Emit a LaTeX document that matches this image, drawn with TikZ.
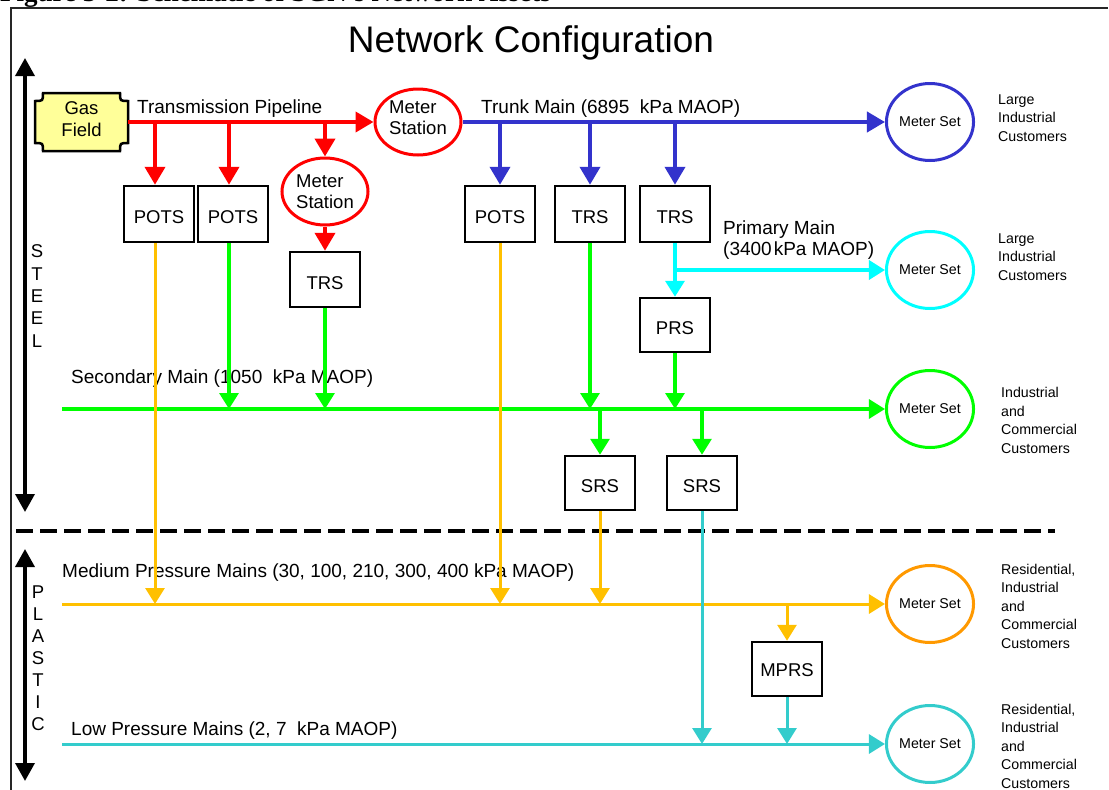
\documentclass[tikz,border=0pt]{standalone}
\usepackage{fontspec}
\setmainfont{Liberation Sans}
\newfontfamily\capfont{Liberation Serif}
\usetikzlibrary{arrows.meta,shapes.geometric}
\definecolor{cRed}{HTML}{FF0000}
\definecolor{cBlue}{HTML}{3333CC}
\definecolor{cCyan}{HTML}{00FFFF}
\definecolor{cGreen}{HTML}{00FF00}
\definecolor{cOrange}{HTML}{FFC000}
\definecolor{cOrangeC}{HTML}{FF9900}
\definecolor{cTeal}{HTML}{33CCCC}
\definecolor{cYellow}{HTML}{FFFF99}
\newcommand\fsBox{\fontsize{18.5}{21}\selectfont}
\newcommand\fsLbl{\fontsize{19}{21}\selectfont}
\newcommand\fsSmall{\fontsize{14.2}{18.5}\selectfont}
\newcommand\fsSide{\fontsize{18.5}{22.4}\selectfont}
\tikzset{
  boxnode/.style={draw=black, line width=2.5pt, minimum width=70pt, minimum height=56pt, inner sep=0pt, text height=19pt, text depth=0pt, font=\fsBox},
  station/.style={ellipse, draw=cRed, line width=3pt, minimum width=86pt, minimum height=66pt, inner sep=0pt, align=left, font=\fsBox},
  stationtext/.style={align=left, inner sep=0pt, font=\fsBox},
  meterset/.style={ellipse, line width=3pt, minimum width=85pt, minimum height=77pt, inner sep=0pt, font=\fsSmall},
  cust/.style={anchor=west, align=left, inner sep=0pt, font=\fsSmall},
  pipelabel/.style={anchor=west, inner sep=0pt, font=\fsLbl},
  bigtip/.style={-{Triangle[length=18pt,width=20pt]}},
  smalltip/.style={-{Triangle[length=16pt,width=19pt]}},
  redpipe/.style={draw=cRed, line width=4pt},
  bluepipe/.style={draw=cBlue, line width=4pt},
  cyanpipe/.style={draw=cCyan, line width=3.5pt},
  greenpipe/.style={draw=cGreen, line width=3.2pt},
  orangepipe/.style={draw=cOrange, line width=3pt},
  tealpipe/.style={draw=cTeal, line width=3pt},
  sidearrow/.style={draw=black, line width=3.5pt, {Triangle[length=18pt,width=19pt]}-{Triangle[length=18pt,width=19pt]}},
}
\begin{document}
\begin{tikzpicture}[x=1pt,y=-1pt]
\useasboundingbox (0,0) rectangle (1109,790);
% caption (cut off at the top edge, as in the reference)
\node[anchor=base west, inner sep=0pt, font=\capfont\bfseries\fontsize{27}{30}\selectfont] (caption) at (0,1.5) {Figure 3-2: Schematic of SGN's Network Assets};
% frame
\coordinate (fbl) at (11,790);
\coordinate (ftl) at (11,8);
\coordinate (ftr) at (1108,8);
\draw[line width=2pt, black!85] (fbl) -- (ftl) -- (ftr);
% title
\node[font=\fontsize{37}{40}\selectfont, inner sep=0pt] (title) at (531,43) {Network Configuration};
% side arrows
\coordinate (s1) at (25,58);
\coordinate (s2) at (25,512);
\coordinate (p1) at (25,549);
\coordinate (p2) at (25,781);
\draw[sidearrow] (s1) -- (s2);
\draw[sidearrow] (p1) -- (p2);
\node[align=center, inner sep=0pt, font=\fsSide] (steel) at (37,296) {S\\T\\E\\E\\L};
\node[align=center, inner sep=0pt, font=\fontsize{18.5}{22}\selectfont] (plastic) at (38,658) {P\\L\\A\\S\\T\\I\\C};
% dashed divider
\coordinate (d1) at (16,531);
\coordinate (d2) at (1055,531);
\draw[line width=3.5pt, dash pattern=on 17pt off 7pt] (d1) -- (d2);
% gas field plaque
\filldraw[fill=cYellow, draw=black, line width=2.5pt]
  (43,93) -- (120,93) .. controls (120,101) .. (128,101) -- (128,143)
  .. controls (120,143) .. (120,151) -- (43,151) .. controls (43,143) .. (35,143)
  -- (35,101) .. controls (43,101) .. (43,93) -- cycle;
\node[inner sep=0pt, minimum width=93pt, minimum height=58pt] (gas) at (81.5,122) {};
\node[align=center, inner sep=0pt, font=\fontsize{18.5}{22}\selectfont] (gastext) at ([yshift=3pt]gas.center) {Gas\\Field};
% stations
\node[station] (ms1) at (418,122) {};
\node[stationtext] (ms1text) at ([yshift=4pt]ms1.center) {Meter\\Station};
\node[station, minimum height=67pt] (ms2) at (325,191.5) {Meter\\Station};
% boxes
\node[boxnode] (pots1) at (159,214) {POTS};
\node[boxnode] (pots2) at (233,214) {POTS};
\node[boxnode] (pots3) at (500,214) {POTS};
\node[boxnode] (trs2) at (590,214) {TRS};
\node[boxnode] (trs3) at (675,214) {TRS};
\node[boxnode, minimum height=55pt] (trs1) at (325,279.5) {TRS};
\node[boxnode, minimum height=54pt] (prs) at (675,325) {PRS};
\node[boxnode, minimum height=54pt] (srs1) at (600,483) {SRS};
\node[boxnode, minimum height=54pt] (srs2) at (702,483) {SRS};
\node[boxnode, minimum height=54pt, text height=15pt] (mprs) at (787,669) {MPRS};
% meter sets
\node[meterset, draw=cBlue] (msb) at (930,122) {Meter Set};
\node[meterset, draw=cCyan] (msc) at (930,270) {Meter Set};
\node[meterset, draw=cGreen] (msg) at (930,409) {Meter Set};
\node[meterset, draw=cOrangeC] (mso) at (930,604) {Meter Set};
\node[meterset, draw=cTeal] (mst) at (930,744) {Meter Set};
% customers
\node[cust] (custb) at (998,118) {Large\\Industrial\\Customers};
\node[cust] (custc) at (998,257) {Large\\Industrial\\Customers};
\node[cust] (custg) at (1001,420.5) {Industrial\\and\\Commercial\\Customers};
\node[cust] (custo) at (1001,606) {Residential,\\Industrial\\and\\Commercial\\Customers};
\node[cust] (custt) at (1001,746) {Residential,\\Industrial\\and\\Commercial\\Customers};
% pipe labels
\node[pipelabel] (ltrans) at (137,109) {Transmission Pipeline};
\node[pipelabel] (ltrunk) at (481,109) {Trunk Main (6895\ \ kPa MAOP)};
\node[pipelabel, align=left] (lprim) at (723,240.5) {Primary Main\\(3400\hspace{2pt}kPa MAOP)};
\node[pipelabel] (lsec) at (71,379) {Secondary Main (1050\ \ kPa MAOP)};
\node[pipelabel] (lmed) at (62,573) {Medium Pressure Mains (30, 100, 210, 300, 400 kPa MAOP)};
\node[pipelabel] (llow) at (71,731) {Low Pressure Mains (2, 7\ \ kPa MAOP)};
% branch coordinates
\coordinate (r1) at (155,122);
\coordinate (r2) at (229,122);
\coordinate (r3) at (325,122);
\coordinate (b1) at (500,122);
\coordinate (b2) at (590,122);
\coordinate (b3) at (675,122);
\coordinate (c1) at (675,270);
\coordinate (gstart) at (62,409);
\coordinate (g1) at (600,409);
\coordinate (g2) at (702,409);
\coordinate (mstart) at (62,604);
\coordinate (m1) at (787,604);
\coordinate (lstart) at (62,744);
% red
\draw[redpipe, bigtip] (gas.east) -- (ms1.west);
\draw[redpipe, bigtip] (r1) -- (r1 |- pots1.north);
\draw[redpipe, bigtip] (r2) -- (r2 |- pots2.north);
\draw[redpipe, bigtip] (r3) -- (ms2.north);
\draw[redpipe, bigtip] (ms2.south) -- (trs1.north);
% blue
\draw[bluepipe, bigtip] (ms1.east) -- (msb.west);
\draw[bluepipe, bigtip] (b1) -- (pots3.north);
\draw[bluepipe, bigtip] (b2) -- (trs2.north);
\draw[bluepipe, bigtip] (b3) -- (trs3.north);
% cyan
\draw[cyanpipe, smalltip] (trs3.south) -- (prs.north);
\draw[cyanpipe, smalltip] (c1) -- (msc.west);
% green
\draw[greenpipe, smalltip] (gstart) -- (msg.west);
\draw[greenpipe, smalltip] (pots2.south -| r2) -- (r2 |- gstart);
\draw[greenpipe, smalltip] (trs1.south) -- (trs1.south |- gstart);
\draw[greenpipe, smalltip] (trs2.south) -- (trs2.south |- gstart);
\draw[greenpipe, smalltip] (prs.south) -- (prs.south |- gstart);
\draw[greenpipe, smalltip] (g1) -- (srs1.north);
\draw[greenpipe, smalltip] (g2) -- (srs2.north);
% orange
\draw[orangepipe, smalltip] (mstart) -- (mso.west);
\draw[orangepipe, smalltip] (pots1.south -| r1) -- (r1 |- mstart);
\draw[orangepipe, smalltip] (pots3.south) -- (pots3.south |- mstart);
\draw[orangepipe, smalltip] (srs1.south) -- (srs1.south |- mstart);
\draw[orangepipe, smalltip] (m1) -- (mprs.north);
% teal
\draw[tealpipe, smalltip] (lstart) -- (mst.west);
\draw[tealpipe, smalltip] (srs2.south) -- (srs2.south |- lstart);
\draw[tealpipe, smalltip] (mprs.south) -- (mprs.south |- lstart);
\end{tikzpicture}
\end{document}
